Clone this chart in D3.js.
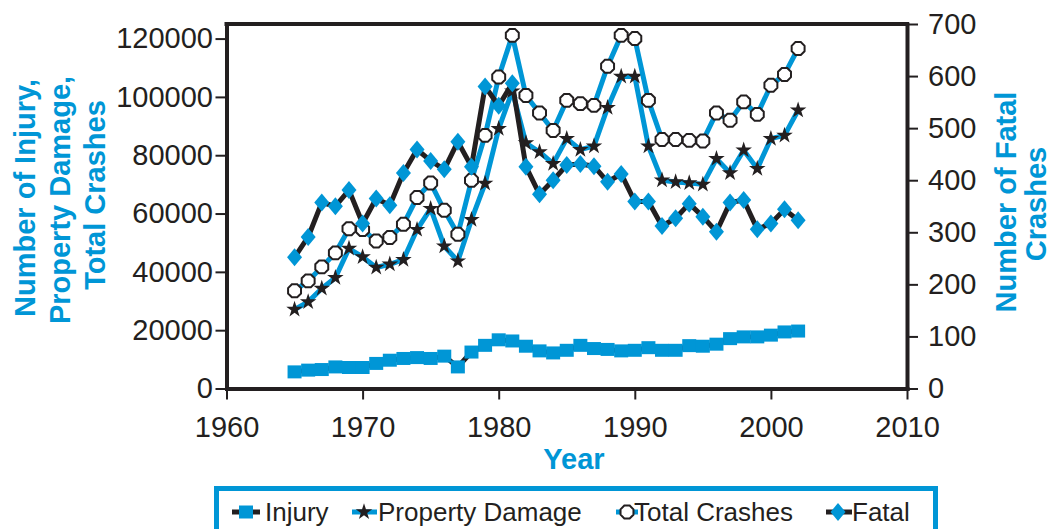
<!DOCTYPE html>
<html><head><meta charset="utf-8">
<script src="https://cdn.jsdelivr.net/npm/d3@7"></script>
<style>body{margin:0;background:#fff} svg{display:block} text{font-family:"Liberation Sans",Arial,sans-serif}</style>
</head><body><svg id="c" width="1054" height="529"></svg>
<script>
const years=[1965,1966,1967,1968,1969,1970,1971,1972,1973,1974,1975,1976,1977,1978,1979,1980,1981,1982,1983,1984,1985,1986,1987,1988,1989,1990,1991,1992,1993,1994,1995,1996,1997,1998,1999,2000,2001,2002];
const injury=[5700,6300,6500,7400,7200,7200,8600,9700,10300,10600,10300,11100,7400,12500,14800,16700,16300,14500,12900,12200,13100,14800,13700,13400,12900,13100,14000,13100,13100,14700,14500,15200,17100,17700,17700,18300,19400,19700];
const propertyDamage=[27100,29700,34300,38000,48000,45100,41500,42600,44200,54500,61700,48800,43700,57900,70300,89100,102000,84200,81100,77100,85700,81900,83100,96300,107000,107000,83100,71400,70800,70500,70000,78800,73900,81700,75400,85700,86800,95400];
const totalCrashes=[33500,36900,41700,46500,54800,54500,50600,51800,56300,65500,70500,61100,52900,71400,86800,106800,121100,100500,94500,88500,98800,97700,97100,110500,121100,120000,98800,85400,85400,85100,84900,94500,92000,98300,94000,104000,107700,116600];
const fatal=[252,291,357,350,381,317,365,352,414,459,437,421,474,426,580,543,586,426,373,400,429,431,427,397,412,359,359,312,327,355,330,301,357,362,306,317,344,323];
const xTicks=[1960,1970,1980,1990,2000,2010];
const leftTicks=[0,20000,40000,60000,80000,100000,120000];
const rightTicks=[0,100,200,300,400,500,600,700];
const seriesNames=["Injury","Property Damage","Total Crashes","Fatal"];

const BLUE="#0096D6", BLACK="#231F20";
const svg=d3.select("#c");
const L=226.5,R=907,T=24,B=388.5;
const x=d3.scaleLinear().domain([1960,2010]).range([L,R]);
const yL=d3.scaleLinear().domain([0,125000]).range([B,T]);
const yR=d3.scaleLinear().domain([0,700]).range([B,T]);

function styleAxis(g){
  g.select(".domain").attr("stroke",BLACK).attr("stroke-width",4);
  g.selectAll(".tick line").attr("stroke",BLACK).attr("stroke-width",2);
  g.selectAll(".tick text").attr("fill",BLACK).style("font-size","29px").style("font-family",'"Liberation Sans",Arial,sans-serif');
}
// top frame
svg.append("line").attr("x1",L-2).attr("x2",R+2).attr("y1",T).attr("y2",T).attr("stroke",BLACK).attr("stroke-width",4);
svg.append("g").attr("transform",`translate(0,${B})`).call(d3.axisBottom(x).tickValues(xTicks).tickFormat(d3.format("d")).tickSize(11).tickSizeOuter(0).tickPadding(17)).call(styleAxis);
svg.append("g").attr("transform",`translate(${L},0)`).call(d3.axisLeft(yL).tickValues(leftTicks).tickFormat(d3.format("d")).tickSize(11).tickSizeOuter(0).tickPadding(2.5)).call(styleAxis);
svg.append("g").attr("transform",`translate(${R},0)`).call(d3.axisRight(yR).tickValues(rightTicks).tickSize(11).tickSizeOuter(0).tickPadding(10)).call(styleAxis);
svg.selectAll(".domain").attr("stroke-linecap","square");

// titles
function title(lines,xs,cy){
  lines.forEach((t,i)=>{
    svg.append("text").attr("transform",`translate(${xs[i]},${cy[i]}) rotate(-90)`).attr("text-anchor","middle")
      .attr("fill",BLUE).style("font-weight","bold").style("font-size","29px").text(t);
  });
}
title(["Number of Injury,","Property Damage,","Total Crashes"],[35,70,105],[198,200,195]);
title(["Number of Fatal","Crashes"],[1016,1046],[202,204]);
svg.append("text").attr("x",574).attr("y",469).attr("text-anchor","middle").attr("fill",BLUE)
  .style("font-weight","bold").style("font-size","29px").text("Year");

// marker shapes
const star=d3.symbol().type(d3.symbolStar).size(85)();
function octagon(r){const p=[];for(let i=0;i<8;i++){const a=Math.PI/8+i*Math.PI/4;p.push([r*Math.cos(a),r*Math.sin(a)]);}return "M"+p.map(d=>d.join(",")).join("L")+"Z";}
const oct=octagon(7);
const diamond="M0,-9L7.5,0L0,9L-7.5,0Z";
const square="M-7,-6.5L7,-6.5L7,6.5L-7,6.5Z";

const specs=[
  {vals:injury,y:yL,line:BLACK,path:square,fill:BLUE,stroke:"none",sw:0},
  {vals:propertyDamage,y:yL,line:BLUE,path:star,fill:BLACK,stroke:"none",sw:0},
  {vals:totalCrashes,y:yL,line:BLUE,path:oct,fill:"#fff",stroke:BLACK,sw:2},
  {vals:fatal,y:yR,line:BLACK,path:diamond,fill:BLUE,stroke:"none",sw:0}
];
specs.forEach(s=>{
  const data=years.map((yr,i)=>({yr,v:s.vals[i]}));
  svg.append("path").datum(data).attr("fill","none").attr("stroke",s.line).attr("stroke-width",5).attr("stroke-linejoin","round")
    .attr("d",d3.line().x(d=>x(d.yr)).y(d=>s.y(d.v)));
  svg.append("g").selectAll("path").data(data).join("path")
    .attr("transform",d=>`translate(${x(d.yr)},${s.y(d.v)})`).attr("d",s.path)
    .attr("fill",s.fill).attr("stroke",s.stroke).attr("stroke-width",s.sw);
});

// legend
svg.append("rect").attr("x",216.5).attr("y",488.5).attr("width",719).attr("height",70).attr("fill","none").attr("stroke",BLUE).attr("stroke-width",5);
const leg=[{x1:232,x2:260,m:246,t:265},{x1:352,x2:377,m:364,t:378},{x1:616,x2:638,m:627,t:634},{x1:826,x2:852,m:838,t:852}];
const ly=512;
leg.forEach((p,i)=>{
  const s=specs[i];
  svg.append("line").attr("x1",p.x1).attr("x2",p.x2).attr("y1",ly).attr("y2",ly).attr("stroke",s.line).attr("stroke-width",5);
  svg.append("path").attr("transform",`translate(${p.m},${ly})`).attr("d",s.path).attr("fill",s.fill).attr("stroke",s.stroke).attr("stroke-width",s.sw);
  svg.append("text").attr("x",p.t).attr("y",521).attr("fill",BLACK).style("font-size","26px").text(seriesNames[i]);
});
</script></body></html>
